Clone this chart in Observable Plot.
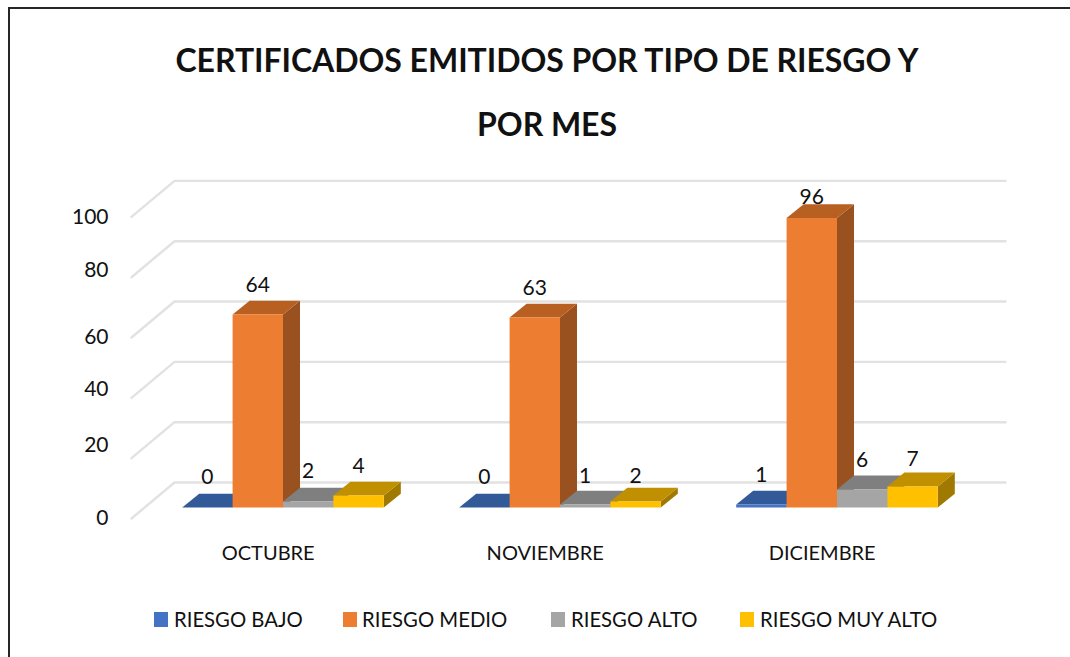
<!DOCTYPE html>
<html lang="es">
<head>
<meta charset="utf-8">
<script src="https://cdn.jsdelivr.net/npm/d3@7"></script>
<script src="https://cdn.jsdelivr.net/npm/@observablehq/plot@0.6"></script>
<style>
  html, body { margin: 0; padding: 0; background: #fff; }
  body { font-family: Lato, sans-serif; color: #111; }
  #page { position: relative; width: 1070px; height: 657px; overflow: hidden; }
  #frame { position: absolute; left: 8px; top: 7px; width: 2000px; height: 2000px; border: 2px solid #262626; }
  #title { position: absolute; left: 0; top: 0; width: 1094px; height: 170px; text-align: center; font-weight: 700; font-size: 32px; letter-spacing: -0.05px; }
  #title div { position: absolute; width: 100%; }
  #chart { position: absolute; left: 0; top: 170px; }
  #chart svg { display: block; }
  #legend { position: absolute; left: 0; top: 600px; width: 1070px; height: 40px; font-size: 20.3px; }
  #legend span { position: absolute; white-space: nowrap; line-height: 20px; top: 9px; }
  #legend i { position: absolute; width: 14px; height: 15px; top: 12px; }
</style>
</head>
<body>
<div id="page">
  <div id="frame"></div>
  <div id="title"></div>
  <div id="chart"></div>
  <div id="legend"></div>
</div>
<script>
// ---- data ----
const titleLines = ["CERTIFICADOS EMITIDOS POR TIPO DE RIESGO Y", "POR MES"];
const months = ["OCTUBRE", "NOVIEMBRE", "DICIEMBRE"];
const seriesNames = ["RIESGO BAJO", "RIESGO MEDIO", "RIESGO ALTO", "RIESGO MUY ALTO"];
const riesgoBajo = [0, 0, 1];
const riesgoMedio = [64, 63, 96];
const riesgoAlto = [2, 1, 6];
const riesgoMuyAlto = [4, 2, 7];
const yTicks = [0, 20, 40, 60, 80, 100];

// ---- styling and layout ----
const frontColors = ["#4472C4", "#ED7D31", "#A5A5A5", "#FFC000"];
const topColors = ["#335A98", "#B85F22", "#7F7F7F", "#C09000"];
const sideColors = ["#2A4A80", "#9A5120", "#6B6B6B", "#A07A00"];
const legendSwatchX = [154, 343, 551, 740];
const legendTextX = [174, 362, 571, 760];
const W = 1070, H = 430, base = 337;     // baseline inside the svg
const pxPerValue = 3.016, pxPerBar = 50.4, originX = 181.7;
const groupStep = 277 / pxPerBar;
const barDX = 17 / pxPerBar, barDY = 13.8 / pxPerValue;
const vx = px => px / pxPerBar, vy = px => px / pxPerValue;
// label lifts, px above each bar's front top (per month, per series)
const labelLift = [[30, 29, 30, 29], [30, 29, 28, 25], [29, 21, 29, 27]];
const tickNudge = [0, 13, 9, 0, 7, 0];

const seriesValues = [riesgoBajo, riesgoMedio, riesgoAlto, riesgoMuyAlto];

// ---- derived tables ----
const faces = [];
const labels = [];
months.forEach((m, g) => {
  seriesValues.forEach((vals, s) => {
    const v = vals[g];
    const x0 = g * groupStep + s, x1 = x0 + 1;
    const add = (kind, color, pts) => pts.forEach(([x, y]) => faces.push({id: `${g}-${s}-${kind}`, color, x, y}));
    add("side", sideColors[s], [[x1, 0], [x1 + barDX, barDY], [x1 + barDX, v + barDY], [x1, v]]);
    add("top", topColors[s], [[x0, v], [x1, v], [x1 + barDX, v + barDY], [x0 + barDX, v + barDY]]);
    if (v > 0) add("front", frontColors[s], [[x0, 0], [x1, 0], [x1, v], [x0, v]]);
    labels.push({x: x0 + 0.5, y: v + vy(labelLift[g][s]), text: String(v)});
  });
});

const wallX0 = vx(131 - originX), wallX1 = vx(174 - originX), wallX2 = vx(1005 - originX);
const wallFrontY = vy(-11), wallBackY = vy(25);
const grid = yTicks.flatMap(t => [
  {t, x: wallX0, y: t + wallFrontY},
  {t, x: wallX1, y: t + wallBackY},
  {t, x: wallX2, y: t + wallBackY}
]);
const tickRows = yTicks.map((t, i) => ({text: String(t), x: vx(108 - originX), y: t + wallFrontY + vy(tickNudge[i])}));
const monthRows = months.map((m, g) => ({text: m, x: g * groupStep + vx(86), y: vy(-46)}));

// ---- title ----
titleLines.forEach((t, i) => {
  const d = document.createElement("div");
  d.textContent = t;
  d.style.top = (i === 0 ? 40 : 104) + "px";
  document.getElementById("title").appendChild(d);
});

// ---- plot ----
const chart = Plot.plot({
  width: W,
  height: H,
  margin: 0,
  style: {background: "transparent", fontFamily: "Lato, sans-serif"},
  x: {domain: [vx(-originX), vx(W - originX)], axis: null},
  y: {domain: [vy(base - H), vy(base)], axis: null},
  color: {type: "identity"},
  marks: [
    Plot.line(grid, {x: "x", y: "y", z: "t", stroke: "#E2E2E2", strokeWidth: 2.4, curve: "linear"}),
    Plot.line(faces, {x: "x", y: "y", z: "id", fill: "color", stroke: "none", curve: "linear"}),
    Plot.text(labels, {x: "x", y: "y", text: "text", fontSize: 21, fill: "#111"}),
    Plot.text(tickRows, {x: "x", y: "y", text: "text", fontSize: 21, textAnchor: "end", fill: "#111"}),
    Plot.text(monthRows, {x: "x", y: "y", text: "text", fontSize: 20, fill: "#111"})
  ]
});
document.getElementById("chart").appendChild(chart);

// ---- legend ----
const legend = document.getElementById("legend");
seriesNames.forEach((name, i) => {
  const sw = document.createElement("i");
  sw.style.left = legendSwatchX[i] + "px";
  sw.style.background = frontColors[i];
  legend.appendChild(sw);
  const tx = document.createElement("span");
  tx.style.left = legendTextX[i] + "px";
  tx.textContent = name;
  legend.appendChild(tx);
});
</script>
</body>
</html>
